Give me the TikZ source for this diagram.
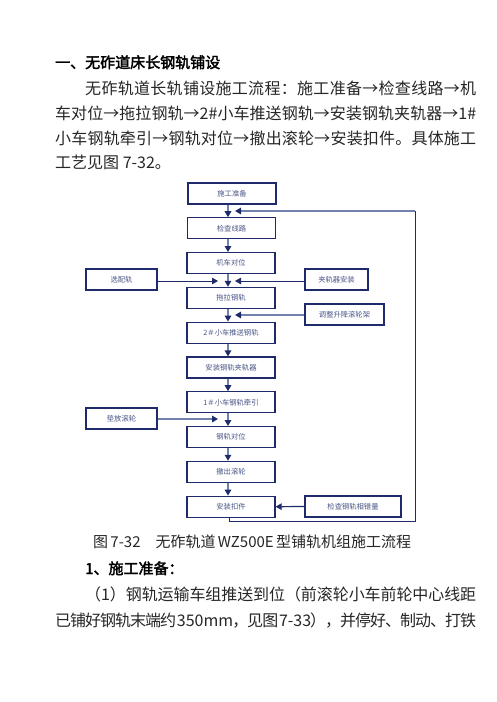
\documentclass[tikz,border=0pt]{standalone}
\usepackage{fontspec}
\setmainfont{Noto Sans CJK SC}
\newfontfamily\heiti{Noto Sans CJK SC}[FakeBold=2.5]
\usetikzlibrary{arrows.meta,calc}
\definecolor{navy}{HTML}{1F2A6B}
\definecolor{shaft}{HTML}{7382AA}
\definecolor{boxtext}{HTML}{4A5585}
\def\spreadtok#1{\ifx\relax#1\unskip\else#1\hskip0pt plus 1fil minus 1.5pt\relax\expandafter\spreadtok\fi}
\newcommand\spreadline[2]{\hbox to #1{\spreadtok#2\relax}}
\begin{document}
\begin{tikzpicture}[x=1pt,y=-1pt,
  body/.style={anchor=base west, inner sep=0pt, font=\fontsize{16}{16}\selectfont, text=black!85},
  mainbox/.style={draw=navy, line width=1.2pt, minimum width=88pt, minimum height=21pt, inner sep=0pt, font=\fontsize{7.3}{8}\selectfont, text=boxtext},
  sidebox/.style={draw=navy, line width=1.2pt, minimum height=21pt, inner sep=0pt, font=\fontsize{7.3}{8}\selectfont, text=boxtext},
  tip/.style={-{Triangle[color=navy,length=6pt,width=6.5pt]}},
  thickarr/.style={draw=shaft, line width=2pt, tip},
  thinarr/.style={draw=navy, line width=1pt, tip}]
\fill[white] (0,0) rectangle (496,702);
\useasboundingbox (0,0) rectangle (496,702);
% heading and paragraph
\node[anchor=base west, inner sep=0pt, font=\heiti\fontsize{15}{15}\selectfont] (head) at (55,68) {一、无砟道床长钢轨铺设};
\node[body] (p1) at (85,94) {\spreadline{391pt}{无砟轨道长轨铺设施工流程：施工准备→检查线路→机}};
\node[body] (p2) at (55,119) {\spreadline{421pt}{车对位→拖拉钢轨→{2\#}小车推送钢轨→安装钢轨夹轨器→{1\#}}};
\node[body] (p3) at (55,144) {\spreadline{421pt}{小车钢轨牵引→钢轨对位→撤出滚轮→安装扣件。具体施工}};
\node[body] (p4) at (55,168) {工艺见图 7-32。};
% flowchart
\coordinate (ax) at (228,0);
\node[mainbox] (a1) at (232,193.5) {施工准备};
\node[mainbox] (a2) at (231.5,228.3) {检查线路};
\node[mainbox] (a3) at (231,263.1) {机车对位};
\node[mainbox] (a4) at (231,297.9) {拖拉钢轨};
\node[mainbox] (a5) at (231,332.7) {2＃小车推送钢轨};
\node[mainbox] (a6) at (231,367.5) {安装钢轨夹轨器};
\node[mainbox] (a7) at (231,402.3) {1＃小车钢轨牵引};
\node[mainbox] (a8) at (231,437.1) {钢轨对位};
\node[mainbox] (a9) at (231,471.9) {撤出滚轮};
\node[mainbox] (a10) at (231,506.7) {安装扣件};
\foreach \i/\j in {a1/a2,a2/a3,a3/a4,a4/a5,a5/a6,a6/a7,a7/a8,a8/a9,a9/a10}
  \draw[thickarr] (\i.south -| ax) -- (\j.north -| ax);
\node[sidebox, minimum width=71pt] (s1) at (121.5,279.5) {选配轨};
\node[sidebox, minimum width=63pt] (s2) at (336.5,279.5) {夹轨器安装};
\node[sidebox, minimum width=79pt] (s3) at (344.5,314.5) {调整升降滚轮架};
\node[sidebox, minimum width=71pt] (s4) at (121.5,418.5) {垫放滚轮};
\node[sidebox, minimum width=96pt] (s5) at (353,506.5) {检查钢轨相错量};
\coordinate (t1) at (218,281);
\coordinate (t2) at (235,281);
\coordinate (t3) at (235,315);
\coordinate (t4) at (218,419);
\draw[thinarr] (s1.east |- t1) -- (t1);
\draw[thinarr] (s2.west |- t2) -- (t2);
\draw[thickarr] (s3.west |- t3) -- (t3);
\draw[thickarr] (s4.east |- t4) -- (t4);
\draw[thinarr, line width=1.2pt] (s5.west) -- (a10.east);
% feedback loop
\coordinate (fx) at (229,0);
\coordinate (fr) at (415,521);
\coordinate (fb) at (235,211);
\draw[navy, line width=1pt] (a10.south -| fx) -- (fx |- fr) -- (fr) -- (fr |- fb);
\draw[thickarr] (fr |- fb) -- (fb);
% caption and following text
\node[anchor=base west, inner sep=0pt, font=\fontsize{15}{16}\selectfont, text=black!85] (cap) at (93,547) {\hbox to 317pt{图 7-32\quad 无砟轨道 WZ500E 型铺轨机组施工流程}};
\node[anchor=base west, inner sep=0pt, font=\heiti\fontsize{15}{15}\selectfont] (sec) at (85,574) {1、施工准备：};
\node[body] (b1) at (85,600) {\spreadline{391pt}{（1）钢轨运输车组推送到位（前滚轮小车前轮中心线距}};
\node[body] (b2) at (55,626) {\spreadline{421pt}{已铺好钢轨末端约\ {350mm}，见图\ {7-33}），并停好、制动、打铁}};
\end{tikzpicture}
\end{document}
